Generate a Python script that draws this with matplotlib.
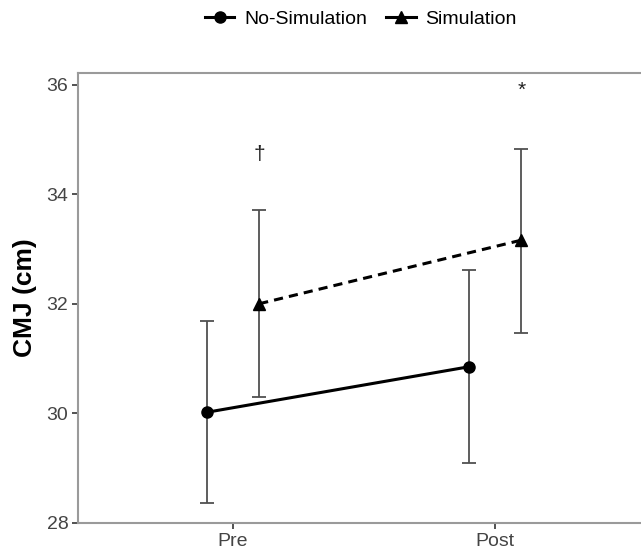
import matplotlib
matplotlib.use("Agg")
import matplotlib.pyplot as plt
from matplotlib.lines import Line2D

plt.rcParams['font.family'] = ['Liberation Sans', 'DejaVu Sans']

times = ["Pre", "Post"]
groups = ["No-Simulation", "Simulation"]
nosim_mean = [30.02, 30.85]
nosim_lo = [28.36, 29.10]
nosim_hi = [31.69, 32.61]
sim_mean = [32.00, 33.16]
sim_lo = [30.30, 31.47]
sim_hi = [33.71, 34.83]
annot_text = ["\u2020", "*"]
annot_y = [34.72, 35.90]

fig = plt.figure(figsize=(6.41, 5.56), dpi=100)
ax = fig.add_axes([78/641, 1 - 523/556, (660 - 78)/641, (523 - 73)/556])

xs = [1, 2]
dodge = 0.1
x_ns = [x - dodge for x in xs]
x_s = [x + dodge for x in xs]

err_kw = dict(fmt='none', ecolor='#505050', elinewidth=1.3, capsize=5, capthick=1.3, zorder=2)
ax.errorbar(x_ns, nosim_mean,
            yerr=[[m - l for m, l in zip(nosim_mean, nosim_lo)], [h - m for m, h in zip(nosim_mean, nosim_hi)]],
            **err_kw)
ax.errorbar(x_s, sim_mean,
            yerr=[[m - l for m, l in zip(sim_mean, sim_lo)], [h - m for m, h in zip(sim_mean, sim_hi)]],
            **err_kw)
ax.plot(x_ns, nosim_mean, color='black', lw=2.2, ls='-', marker='o', ms=8, zorder=3)
ax.plot(x_s, sim_mean, color='black', lw=2.2, ls=(0, (3, 2)), marker='^', ms=9, zorder=3)

for x, t, y in zip(x_s, annot_text, annot_y):
    ax.text(x, y, t, ha='center', va='center', fontsize=15, color='#222222')

ax.set_xlim(1 - 155/262, 1 + (660 - 233)/262)
ax.set_ylim(28, 36.21)
ax.set_xticks(xs)
ax.set_xticklabels(times)
ax.set_yticks([28, 30, 32, 34, 36])
for s in ['left', 'top', 'bottom', 'right']:
    ax.spines[s].set_color('#9a9a9a')
    ax.spines[s].set_linewidth(1.5)
ax.tick_params(axis='both', colors='#333333', length=4, width=1.2, labelsize=14, labelcolor='#444444', pad=3)
ax.set_ylabel("CMJ (cm)", fontsize=19, fontweight='bold', labelpad=7)

handles = [Line2D([0], [0], color='black', lw=2.2, marker='o', ms=8),
           Line2D([0], [0], color='black', lw=2.2, marker='^', ms=9)]
fig.legend(handles, groups, loc='center', bbox_to_anchor=(361/641, 1 - 19/556), ncol=2,
           frameon=False, fontsize=14, handlelength=1.5, columnspacing=1.0, handletextpad=0.5)

fig.savefig("out.png", dpi=100)
